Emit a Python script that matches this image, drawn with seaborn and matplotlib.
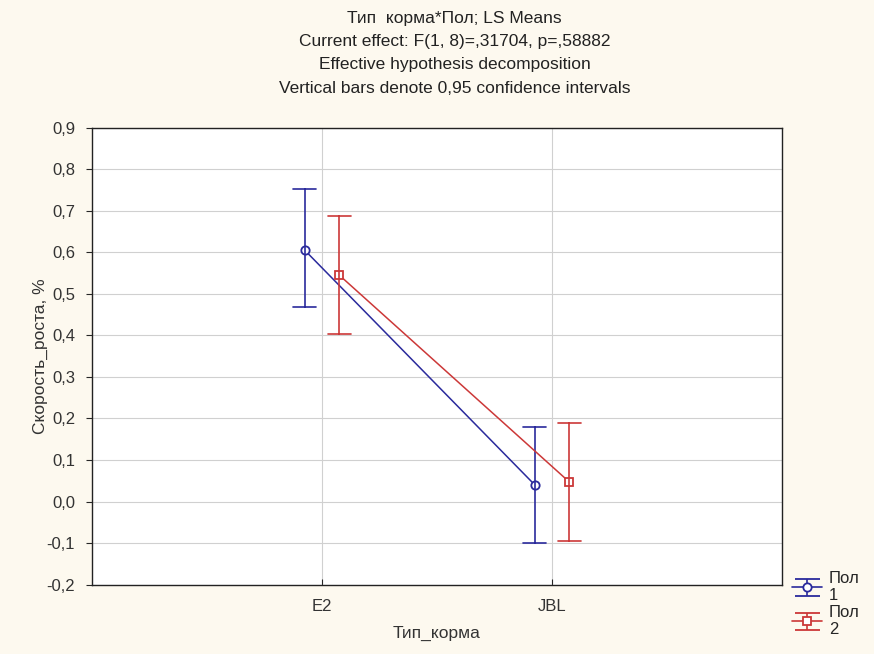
import matplotlib
matplotlib.use("Agg")
import matplotlib.pyplot as plt
import seaborn as sns
import pandas as pd
from matplotlib.ticker import FuncFormatter

# data (LS means and 0.95 CI)
feed = ["E2", "JBL"]
sex = ["Пол\n1", "Пол\n2"]
mean_1 = [0.605, 0.040]
low_1 = [0.468, -0.100]
high_1 = [0.752, 0.180]
mean_2 = [0.545, 0.047]
low_2 = [0.403, -0.095]
high_2 = [0.688, 0.188]

# long table: median of (low, mean, high) is the mean, min/max are the CI ends
rows = []
for s, m, lo, hi in [(sex[0], mean_1, low_1, high_1), (sex[1], mean_2, low_2, high_2)]:
    for i, f in enumerate(feed):
        for v in (lo[i], m[i], hi[i]):
            rows.append({"Тип_корма": f, "Пол": s, "val": v})
df = pd.DataFrame(rows)

sns.set_style("white")
plt.rcParams['font.family'] = ['Liberation Sans', 'DejaVu Sans']

bg = "#fdf9ef"
fig = plt.figure(figsize=(8.74, 6.54), dpi=100, facecolor=bg)
ax = fig.add_axes([0.105, 0.106, 0.79, 0.699])
ax.set_facecolor("white")

colors = ["#2a2a9c", "#cc3838"]
markers = ["o", "s"]
sns.pointplot(data=df, x="Тип_корма", y="val", hue="Пол", hue_order=sex,
              estimator="median", errorbar=lambda v: (v.min(), v.max()),
              dodge=0.15, markers=markers, linestyles="-", palette=colors,
              capsize=0.1, markersize=6, linewidth=1.1, err_kws={"linewidth": 1.2},
              legend=False, ax=ax)

for ln in ax.lines:
    ln.set_markerfacecolor("white")
    ln.set_markeredgewidth(1.3)

# legend handles in the errorbar style (drawn off-limits, only for the legend)
handles = []
for c, mk in zip(colors, markers):
    h = ax.errorbar([-5], [0], yerr=[0.1], color=c, marker=mk, markersize=6,
                    markerfacecolor="white", markeredgewidth=1.3, capsize=9,
                    linewidth=1.2)
    handles.append(h)

ax.set_xlim(-1, 2)
ax.set_ylim(-0.2, 0.9)
ax.set_yticks([-0.2, -0.1, 0.0, 0.1, 0.2, 0.3, 0.4, 0.5, 0.6, 0.7, 0.8, 0.9])
ax.yaxis.set_major_formatter(FuncFormatter(lambda v, p: f"{v:.1f}".replace(".", ",")))
ax.grid(True, color="#d0d0d0", linewidth=0.8)
ax.set_axisbelow(True)
for sp in ax.spines.values():
    sp.set_color("#222222")
    sp.set_linewidth(1.0)
ax.tick_params(axis="y", direction="out", length=4, pad=8, labelsize=12, left=True)
ax.tick_params(axis="x", direction="in", length=4, pad=10, labelsize=12, bottom=True)
for lab in ax.get_xticklabels() + ax.get_yticklabels():
    lab.set_color("#333333")

ax.set_xlabel("Тип_корма", fontsize=12.5, color="#333333", labelpad=9)
ax.set_ylabel("Скорость_роста, %", fontsize=12.5, color="#333333", labelpad=-1)

fig.text(0.52, 0.983,
         "Тип  корма*Пол; LS Means\n"
         "Current effect: F(1, 8)=,31704, p=,58882\n"
         "Effective hypothesis decomposition\n"
         "Vertical bars denote 0,95 confidence intervals",
         ha="center", va="top", fontsize=12.5, color="#222222", linespacing=1.68)

ax.legend(handles, sex, loc="lower left", bbox_to_anchor=(1.005, -0.13), frameon=False,
          fontsize=12, handlelength=1.8, handletextpad=0.4, labelspacing=0.1,
          borderaxespad=0)

fig.savefig("out.png", dpi=100, facecolor=bg)
